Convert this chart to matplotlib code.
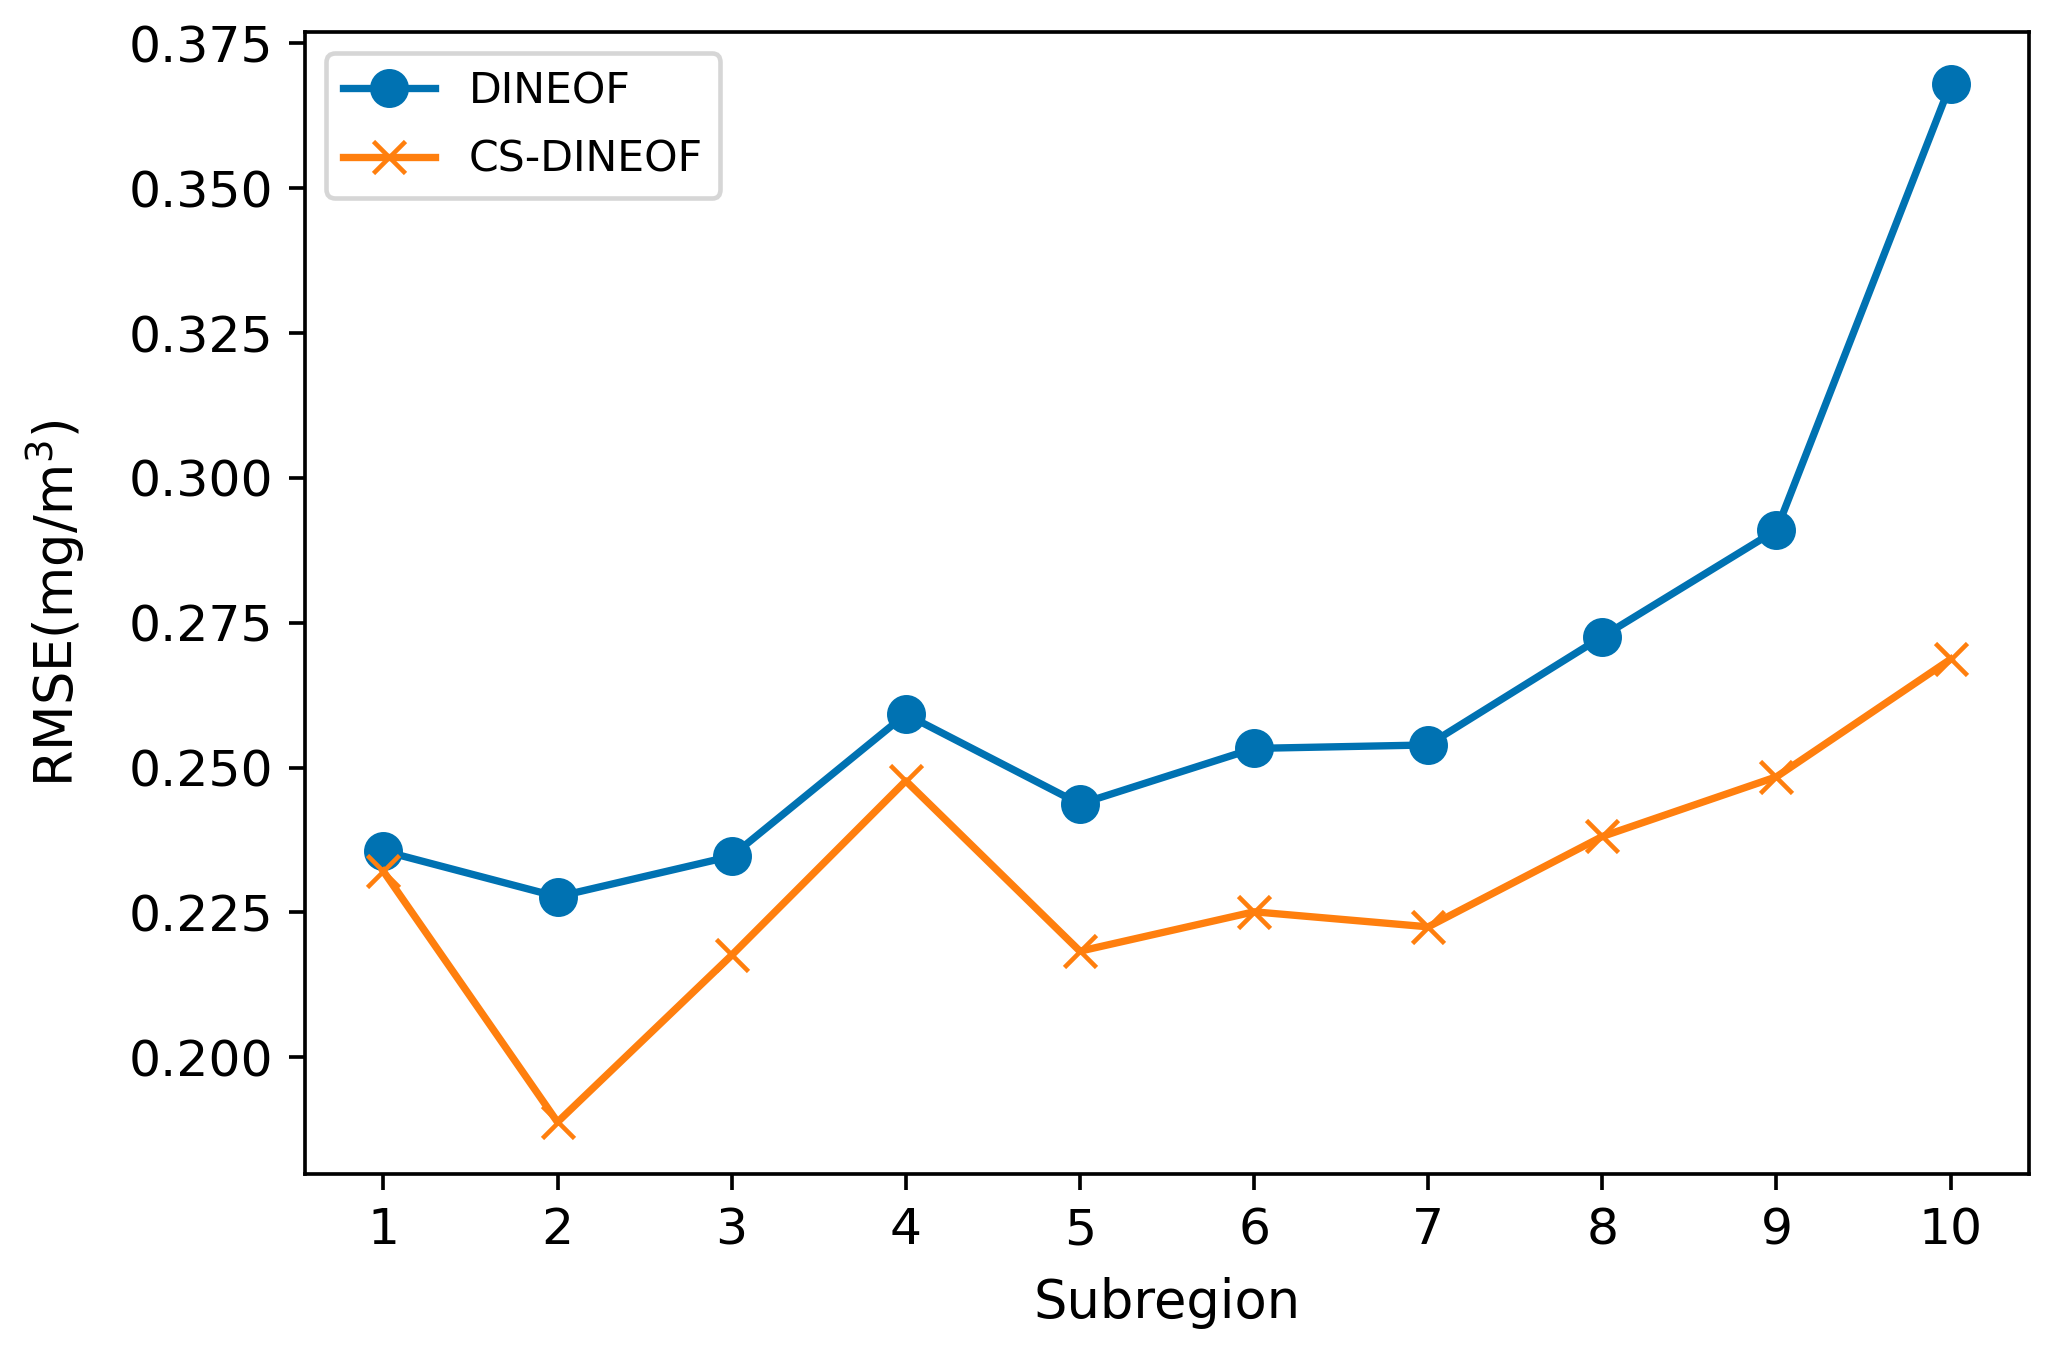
import matplotlib
matplotlib.use("Agg")
import matplotlib.pyplot as plt

subregions = [1, 2, 3, 4, 5, 6, 7, 8, 9, 10]
dineof = [0.2356, 0.2277, 0.2347, 0.2592, 0.2437, 0.2533, 0.2539, 0.2726, 0.2910, 0.3680]
cs_dineof = [0.2321, 0.1888, 0.2176, 0.2477, 0.2183, 0.2251, 0.2225, 0.2381, 0.2484, 0.2687]

plt.rcParams['font.family'] = ['DejaVu Sans']
fig = plt.figure(figsize=(2059 / 330, 1358 / 330), dpi=330)
ax = fig.add_axes([305 / 2059, 1 - 1174 / 1358, (2029 - 305) / 2059, (1174 - 32) / 1358])

ax.plot(subregions, dineof, color='#0072b2', marker='o', markersize=7.5, lw=1.6, label='DINEOF')
ax.plot(subregions, cs_dineof, color='#ff7f0e', marker='x', markersize=7, lw=1.6, label='CS-DINEOF')

ax.set_xticks(subregions)
ax.tick_params(labelsize=11)
ax.set_xlabel('Subregion', fontsize=11.5, labelpad=5)
ax.set_ylabel('RMSE(mg/m$^3$)', fontsize=11.5, labelpad=9)
ax.legend(loc='upper left', fontsize=9.3, labelspacing=0.62, handlelength=2.15)

fig.savefig('out.png', dpi=330)
